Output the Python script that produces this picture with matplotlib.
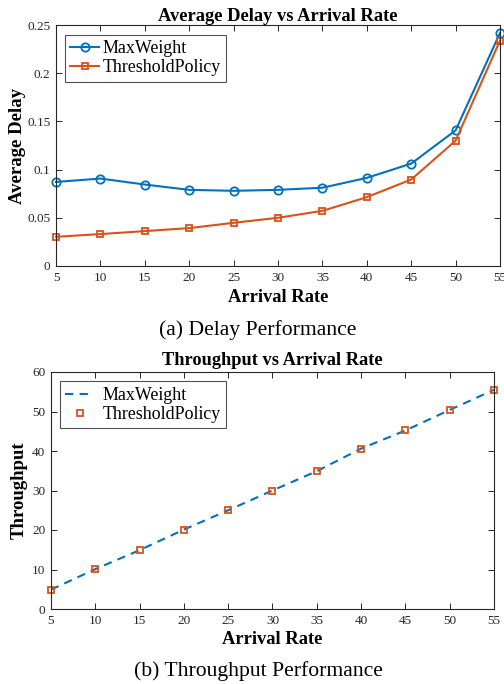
import matplotlib
matplotlib.use("Agg")
import matplotlib.pyplot as plt

arrival = [5, 10, 15, 20, 25, 30, 35, 40, 45, 50, 55]
delay_maxweight = [0.0872, 0.0907, 0.0845, 0.0790, 0.0780, 0.0790, 0.0812, 0.0914, 0.1062, 0.1407, 0.2417]
delay_threshold = [0.0303, 0.0331, 0.0362, 0.0393, 0.0448, 0.0500, 0.0572, 0.0714, 0.0897, 0.1300, 0.2338]
thr_maxweight = [4.9, 10.1, 14.9, 20.1, 25.0, 30.0, 34.9, 40.6, 45.2, 50.4, 55.5]
thr_threshold = [4.9, 10.1, 14.9, 20.1, 25.0, 30.0, 34.9, 40.6, 45.2, 50.4, 55.5]

plt.rcParams['font.family'] = ['Liberation Serif', 'DejaVu Serif']
BLUE = '#0072BD'
ORANGE = '#D95319'
AXC = '#262626'

W, H = 504, 684
fig = plt.figure(figsize=(W/100, H/100), dpi=100)

def style(ax):
    for s in ax.spines.values():
        s.set_color(AXC)
        s.set_linewidth(0.8)
    ax.tick_params(direction='in', top=True, right=True, length=4, width=0.7,
                   labelsize=9.5, colors=AXC, pad=4)

# top
ax1 = fig.add_axes([56/W, 1-266/H, 444/W, 241/H])
ax1.plot(arrival, delay_maxweight, '-o', color=BLUE, lw=1.5, ms=6, mfc='none', mew=1.3, label='MaxWeight', clip_on=False)
ax1.plot(arrival, delay_threshold, '-s', color=ORANGE, lw=1.5, ms=5, mfc='none', mew=1.3, label='ThresholdPolicy', clip_on=False)
ax1.set_xlim(5, 55)
ax1.set_ylim(0, 0.25)
ax1.set_xticks(arrival)
ax1.set_yticks([0, 0.05, 0.1, 0.15, 0.2, 0.25])
ax1.set_yticklabels(['0', '0.05', '0.1', '0.15', '0.2', '0.25'])
style(ax1)
ax1.set_title('Average Delay vs Arrival Rate', fontsize=13.3, fontweight='bold', pad=3)
ax1.set_xlabel('Arrival Rate', fontsize=13.3, fontweight='bold', labelpad=4)
ax1.set_ylabel('Average Delay', fontsize=13.5, fontweight='bold', labelpad=1)
leg1 = ax1.legend(loc='upper left', bbox_to_anchor=(0.02, 0.96), fontsize=12.9, frameon=True,
                  fancybox=False, edgecolor=AXC, handlelength=1.6, handletextpad=0.2,
                  borderpad=0.3, labelspacing=0.12, borderaxespad=0)
leg1.get_frame().set_linewidth(0.8)

# bottom
ax2 = fig.add_axes([51/W, 1-609/H, 443/W, 237/H])
ax2.plot(arrival, thr_maxweight, '--', color=BLUE, lw=1.5, label='MaxWeight', dashes=(4, 3))
ax2.plot(arrival, thr_threshold, 's', color=ORANGE, ms=5, mfc='none', mew=1.3, label='ThresholdPolicy', clip_on=False)
ax2.set_xlim(5, 55)
ax2.set_ylim(0, 60)
ax2.set_xticks(arrival)
ax2.set_yticks(range(0, 61, 10))
style(ax2)
ax2.set_title('Throughput vs Arrival Rate', fontsize=13.2, fontweight='bold', pad=5)
ax2.set_xlabel('Arrival Rate', fontsize=13.3, fontweight='bold', labelpad=3)
ax2.set_ylabel('Throughput', fontsize=13.5, fontweight='bold', labelpad=3)
leg2 = ax2.legend(loc='upper left', bbox_to_anchor=(0.02, 0.96), fontsize=12.9, frameon=True,
                  fancybox=False, edgecolor=AXC, handlelength=1.6, handletextpad=0.5,
                  borderpad=0.3, labelspacing=0.12, borderaxespad=0)
leg2.get_frame().set_linewidth(0.8)

fig.text(258/W, 1-330/H, '(a) Delay Performance', ha='center', va='center', fontsize=15.6)
fig.text(258/W, 1-671/H, '(b) Throughput Performance', ha='center', va='center', fontsize=15.6)

fig.savefig('out.png', dpi=100, facecolor='white')
